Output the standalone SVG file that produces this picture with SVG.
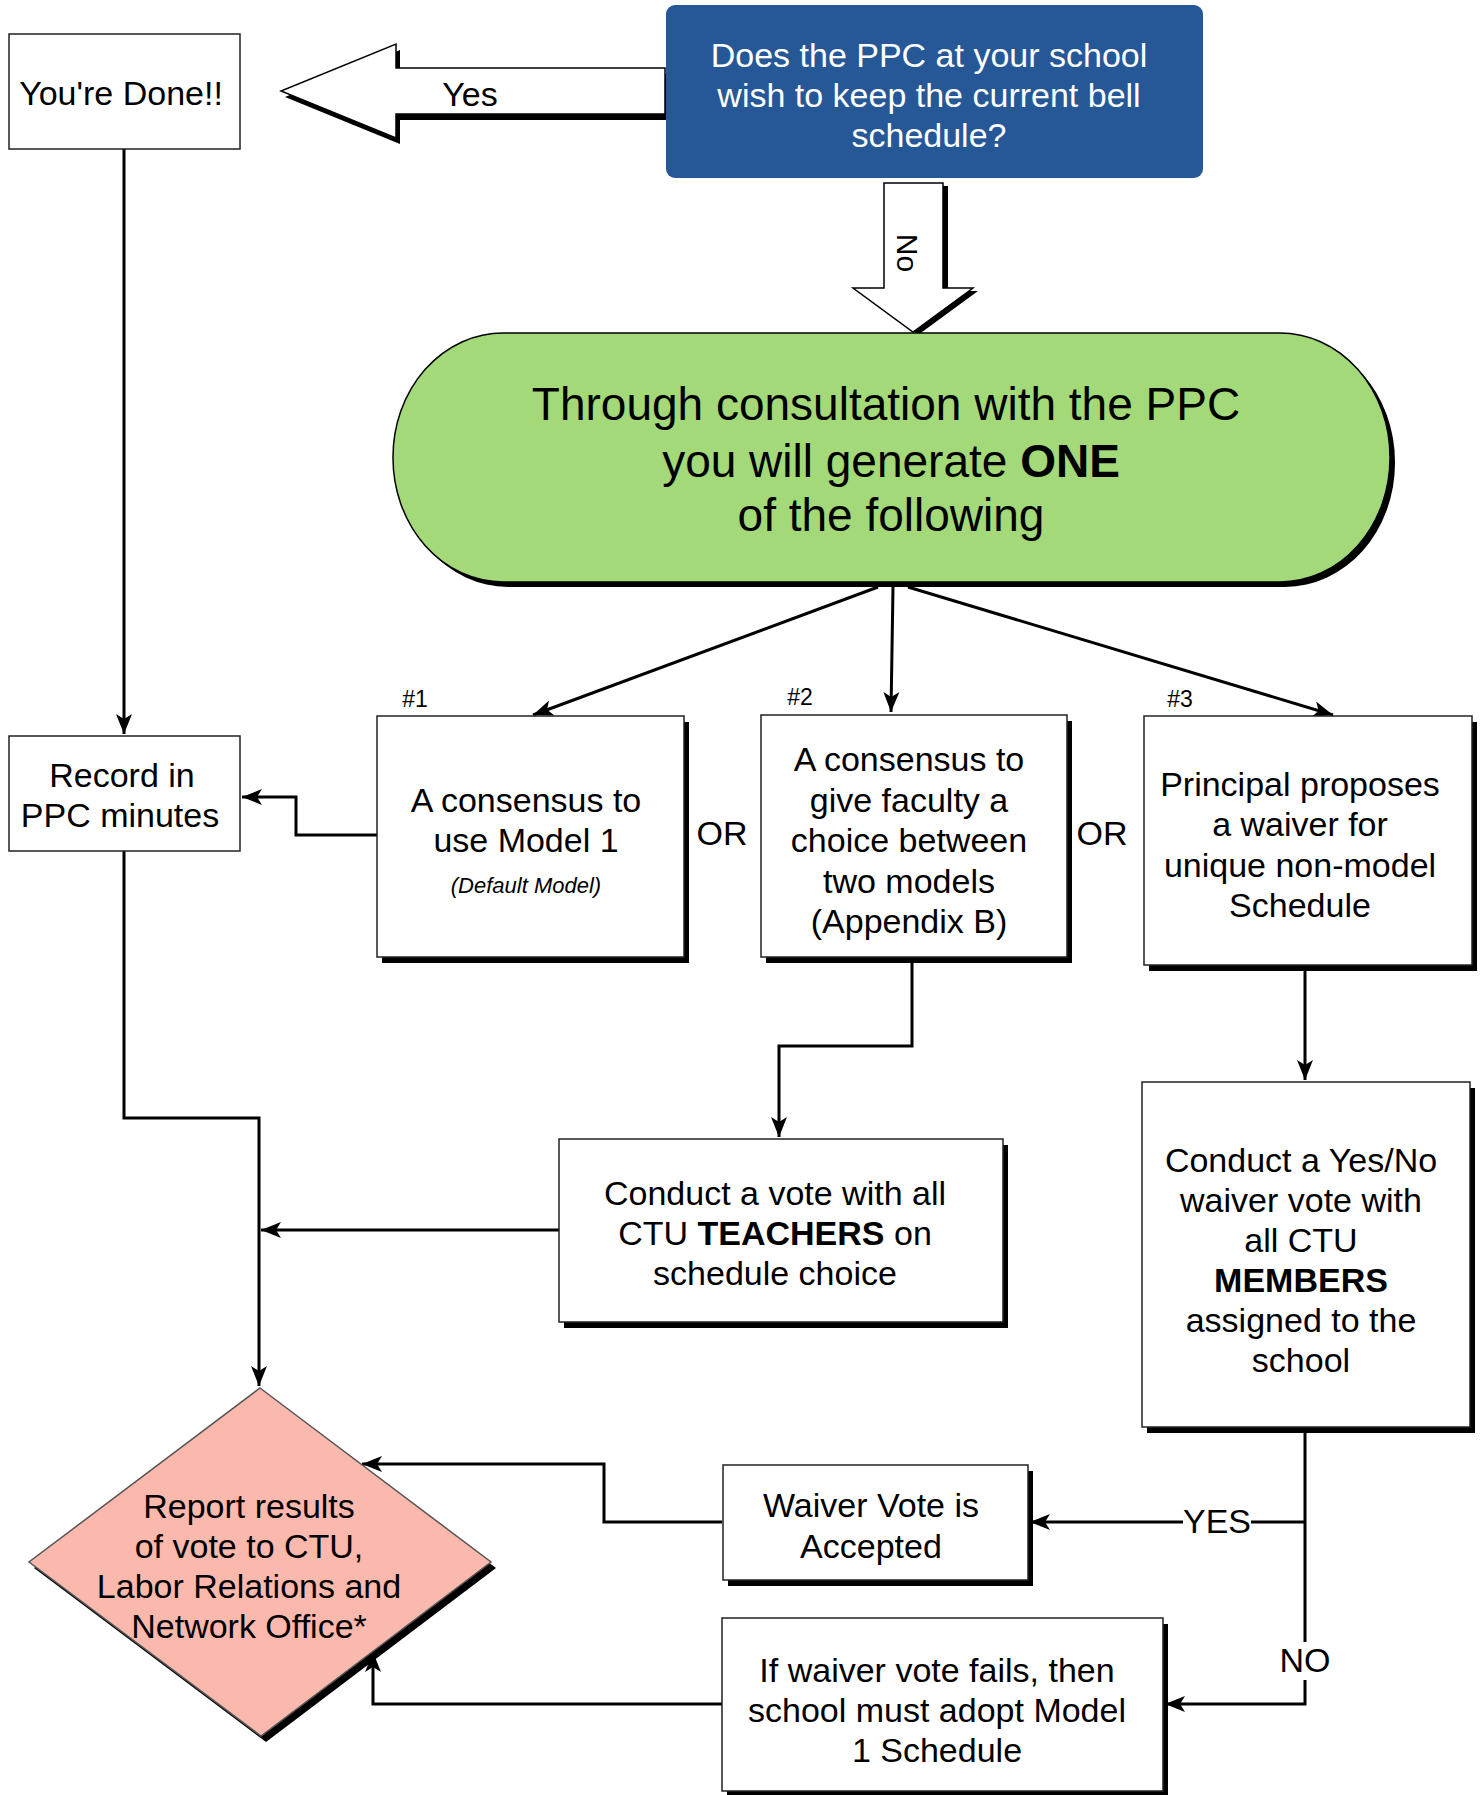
<svg xmlns="http://www.w3.org/2000/svg" width="1481" height="1795" viewBox="0 0 1481 1795">
<style>
text{font-family:"Liberation Sans",Arial,sans-serif;font-size:34px;fill:#000;text-anchor:middle}
.box{fill:#fff;stroke:#222;stroke-width:1.5}
.sh{fill:#000}
.ln{fill:none;stroke:#000;stroke-width:3}
.b{font-weight:bold}
.w{fill:#fff}
text.big{font-size:46px}
text.num{font-size:23px}
text.note{font-size:22px;font-style:italic}
text.no{font-size:30px}
</style>
<defs>
<marker id="ah" markerUnits="userSpaceOnUse" markerWidth="22" markerHeight="18" refX="20" refY="8" orient="auto">
<path d="M0,0 L20,8 L0,16 L5,8 z" fill="#000"/>
</marker>
</defs>
<rect width="1481" height="1795" fill="#fff"/>

<g id="connectors">
<path class="ln" d="M124,149 V734" marker-end="url(#ah)"/>
<path class="ln" d="M377,835 H296 V797 H242" marker-end="url(#ah)"/>
<path class="ln" d="M878,587 L533,715" marker-end="url(#ah)"/>
<path class="ln" d="M893,587 L891,712" marker-end="url(#ah)"/>
<path class="ln" d="M908,587 L1333,715" marker-end="url(#ah)"/>
<path class="ln" d="M912,963 V1046 H779 V1137" marker-end="url(#ah)"/>
<path class="ln" d="M124,851 V1118 H259 V1386" marker-end="url(#ah)"/>
<path class="ln" d="M559,1230 H261" marker-end="url(#ah)"/>
<path class="ln" d="M1305,971 V1080" marker-end="url(#ah)"/>
<path class="ln" d="M1305,1433 V1704 H1165" marker-end="url(#ah)"/>
<path class="ln" d="M1305,1522 H1030" marker-end="url(#ah)"/>
<path class="ln" d="M722,1522 H604 V1464 H362" marker-end="url(#ah)"/>
<path class="ln" d="M722,1704 H373 V1652" marker-end="url(#ah)"/>
<rect x="1183" y="1505" width="68" height="34" fill="#fff"/>
<text x="1217" y="1533">YES</text>
<rect x="1280" y="1642" width="50" height="38" fill="#fff"/>
<text x="1305" y="1672">NO</text>
</g>

<g id="done">
<rect class="box" x="9" y="34" width="231" height="115"/>
<text x="121" y="105">You're Done!!</text>
</g>

<g id="yes-arrow">
<polygon class="sh" points="670,74 400,74 400,50 285,97 400,144 400,120 670,120"/>
<polygon fill="#fff" stroke="#000" stroke-width="1.5" points="665,68 396,68 396,44 281,91 396,138 396,114 665,114"/>
<text x="470" y="106">Yes</text>
</g>

<g id="question">
<rect x="666" y="5" width="537" height="173" rx="9" fill="#265897"/>
<text class="w" x="929" y="67">Does the PPC at your school</text>
<text class="w" x="929" y="107">wish to keep the current bell</text>
<text class="w" x="929" y="147">schedule?</text>
</g>

<g id="no-arrow">
<polygon class="sh" points="889,186 948,186 948,291 978,291 918,335 858,291 889,291"/>
<polygon fill="#fff" stroke="#000" stroke-width="1.5" points="884,183 943,183 943,288 973,288 913,332 853,288 884,288"/>
<text class="no" transform="translate(897,253) rotate(90)">No</text>
</g>

<g id="consult">
<rect class="sh" x="398" y="338" width="997" height="249" rx="110" ry="124"/>
<rect x="393" y="333" width="997" height="249" rx="110" ry="124" fill="#a3d978" stroke="#000" stroke-width="1.5"/>
<text class="big" x="886" y="420">Through consultation with the PPC</text>
<text class="big" x="891" y="477">you will generate <tspan class="b">ONE</tspan></text>
<text class="big" x="891" y="531">of the following</text>
</g>

<g id="opt1">
<text class="num" x="415" y="707">#1</text>
<rect class="sh" x="382" y="722" width="307" height="241"/>
<rect class="box" x="377" y="716" width="307" height="241"/>
<text x="526" y="812">A consensus to</text>
<text x="526" y="852">use Model 1</text>
<text class="note" x="526" y="893">(Default Model)</text>
</g>

<g id="or1"><text x="722" y="845">OR</text></g>

<g id="opt2">
<text class="num" x="800" y="705">#2</text>
<rect class="sh" x="766" y="721" width="306" height="242"/>
<rect class="box" x="761" y="715" width="306" height="242"/>
<text x="909" y="771">A consensus to</text>
<text x="909" y="812">give faculty a</text>
<text x="909" y="852">choice between</text>
<text x="909" y="893">two models</text>
<text x="909" y="933">(Appendix B)</text>
</g>

<g id="or2"><text x="1102" y="845">OR</text></g>

<g id="opt3">
<text class="num" x="1180" y="707">#3</text>
<rect class="sh" x="1149" y="722" width="328" height="249"/>
<rect class="box" x="1144" y="716" width="328" height="249"/>
<text x="1300" y="796">Principal proposes</text>
<text x="1300" y="836">a waiver for</text>
<text x="1300" y="877">unique non-model</text>
<text x="1300" y="917">Schedule</text>
</g>

<g id="record">
<rect class="box" x="9" y="736" width="231" height="115"/>
<text x="122" y="787">Record in</text>
<text x="120" y="827">PPC minutes</text>
</g>

<g id="vote-teachers">
<rect class="sh" x="564" y="1145" width="444" height="183"/>
<rect class="box" x="559" y="1139" width="444" height="183"/>
<text x="775" y="1205">Conduct a vote with all</text>
<text x="775" y="1245">CTU <tspan class="b">TEACHERS</tspan> on</text>
<text x="775" y="1285">schedule choice</text>
</g>

<g id="vote-members">
<rect class="sh" x="1147" y="1088" width="328" height="345"/>
<rect class="box" x="1142" y="1082" width="328" height="345"/>
<text x="1301" y="1172">Conduct a Yes/No</text>
<text x="1301" y="1212">waiver vote with</text>
<text x="1301" y="1252">all CTU</text>
<text x="1301" y="1292" class="b">MEMBERS</text>
<text x="1301" y="1332">assigned to the</text>
<text x="1301" y="1372">school</text>
</g>

<g id="accepted">
<rect class="sh" x="728" y="1471" width="305" height="115"/>
<rect class="box" x="723" y="1465" width="305" height="115"/>
<text x="871" y="1517">Waiver Vote is</text>
<text x="871" y="1558">Accepted</text>
</g>

<g id="fails">
<rect class="sh" x="727" y="1624" width="441" height="173"/>
<rect class="box" x="722" y="1618" width="441" height="173"/>
<text x="937" y="1682">If waiver vote fails, then</text>
<text x="937" y="1722">school must adopt Model</text>
<text x="937" y="1762">1 Schedule</text>
</g>

<g id="report">
<polygon class="sh" points="265,1394 496,1568 266,1742 34,1568"/>
<polygon fill="#fbb8ac" stroke="#555" stroke-width="1.5" points="260,1388 491,1562 261,1736 29,1562"/>
<text x="249" y="1518">Report results</text>
<text x="249" y="1558">of vote to CTU,</text>
<text x="249" y="1598">Labor Relations and</text>
<text x="249" y="1638">Network Office*</text>
</g>
</svg>
